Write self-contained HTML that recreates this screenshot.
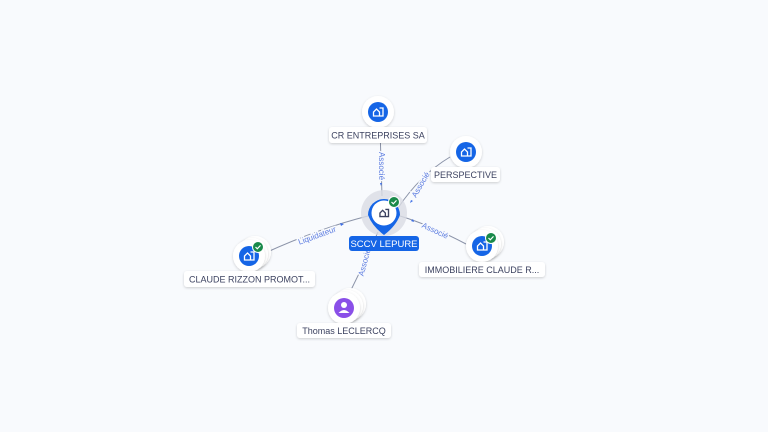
<!DOCTYPE html>
<html><head><style>
html,body{margin:0;padding:0;background:#f8fafd;}
svg{display:block;font-family:"Liberation Sans",sans-serif;}
.lbl{font-size:9px;fill:#3c4260;}
.el{font-size:8px;fill:#5b7be0;stroke:#f8fafd;stroke-width:3px;paint-order:stroke;}
</style></head><body>
<svg width="768" height="432" viewBox="0 0 768 432" xmlns="http://www.w3.org/2000/svg">
<defs>
<filter id="sh" x="-30%" y="-30%" width="160%" height="160%"><feDropShadow dx="0" dy="1" stdDeviation="1.2" flood-color="#000" flood-opacity="0.18"/></filter>
<g id="bld"><path d="M-4.5,4 v-4 l3,-3 l3,3 v4 z M1.5,-4 h3.5 v8 h-3.5" fill="none" stroke="#fff" stroke-width="1.3"/></g>
<g id="chk"><circle r="5.5" fill="#1a8a4a" stroke="#fff" stroke-width="1"/><path d="M-2.5,0 l1.8,1.8 l3.2,-3.4" stroke="#fff" stroke-width="1.2" fill="none"/></g>
</defs>
<!-- edges -->
<g stroke="#8b93a8" stroke-width="1" fill="none">
<path d="M380,128 L382,196"/>
<path d="M450,157 Q420,175 398,208"/>
<path d="M466,244 Q430,225 400,216"/>
<path d="M265,253 Q320,228 368,216"/>
<path d="M350,292 Q365,262 378,232"/>
</g>
<g fill="#3d6ee6">
<path d="M380,183 l2,0 l-1,3 z"/>
<path d="M411,200 l2,1 l-3,2 z"/>
<path d="M413,219 l1,3 l-3,-1 z"/>
<path d="M340,223 l1,3 l3,-2 z"/>
</g>
<text class="el" transform="translate(379,166) rotate(90)" text-anchor="middle">Associé</text>
<text class="el" transform="translate(423,186) rotate(-60)" text-anchor="middle">Associé</text>
<text class="el" transform="translate(434,233) rotate(25)" text-anchor="middle">Associé</text>
<text class="el" transform="translate(318,238) rotate(-20)" text-anchor="middle">Liquidateur</text>
<text class="el" transform="translate(367,263) rotate(-75)" text-anchor="middle">Associé</text>
<!-- CR ENTREPRISES -->
<circle cx="378" cy="112" r="16" fill="#fff" filter="url(#sh)"/>
<circle cx="378" cy="112" r="10" fill="#1565e6"/>
<use href="#bld" x="378" y="112"/>
<rect x="329" y="127" width="98" height="16" rx="3" fill="#fff" filter="url(#sh)"/>
<text class="lbl" x="378" y="138.5" text-anchor="middle">CR ENTREPRISES SA</text>
<!-- PERSPECTIVE -->
<circle cx="466" cy="152" r="16" fill="#fff" filter="url(#sh)"/>
<circle cx="466" cy="152" r="10" fill="#1565e6"/>
<use href="#bld" x="466" y="152"/>
<rect x="431" y="167" width="69" height="15" rx="3" fill="#fff" filter="url(#sh)"/>
<text class="lbl" x="465.5" y="178" text-anchor="middle">PERSPECTIVE</text>
<!-- IMMOBILIERE -->
<circle cx="488" cy="242" r="16" fill="#fff" filter="url(#sh)"/>
<circle cx="485" cy="244" r="16" fill="#fff" filter="url(#sh)"/>
<circle cx="482" cy="246" r="16" fill="#fff" filter="url(#sh)"/>
<circle cx="482" cy="246" r="10" fill="#1565e6"/>
<use href="#bld" x="482" y="246"/>
<use href="#chk" x="491" y="238"/>
<rect x="419" y="262" width="126" height="15" rx="3" fill="#fff" filter="url(#sh)"/>
<text class="lbl" x="482" y="273" text-anchor="middle">IMMOBILIERE CLAUDE R...</text>
<!-- CLAUDE RIZZON -->
<circle cx="255" cy="252" r="16" fill="#fff" filter="url(#sh)"/>
<circle cx="252" cy="254" r="16" fill="#fff" filter="url(#sh)"/>
<circle cx="249" cy="256" r="16" fill="#fff" filter="url(#sh)"/>
<circle cx="249" cy="256" r="10" fill="#1565e6"/>
<use href="#bld" x="249" y="256"/>
<use href="#chk" x="258" y="247"/>
<rect x="184" y="271" width="131" height="16" rx="3" fill="#fff" filter="url(#sh)"/>
<text class="lbl" x="249.5" y="282.5" text-anchor="middle">CLAUDE RIZZON PROMOT...</text>
<!-- Thomas -->
<circle cx="350" cy="304" r="16" fill="#fff" filter="url(#sh)"/>
<circle cx="347" cy="306" r="16" fill="#fff" filter="url(#sh)"/>
<circle cx="344" cy="308" r="16" fill="#fff" filter="url(#sh)"/>
<circle cx="344" cy="308" r="10" fill="#8a4fe8"/>
<circle cx="344" cy="305" r="3" fill="#fff"/>
<path d="M338.5,313 q5.5,-6 11,0 z" fill="#fff"/>
<rect x="297" y="323" width="94" height="15" rx="3" fill="#fff" filter="url(#sh)"/>
<text class="lbl" x="344" y="334" text-anchor="middle">Thomas LECLERCQ</text>
<!-- center -->
<circle cx="384" cy="213" r="23" fill="#d9dce3" opacity="0.8"/>
<path d="M368,215 A16,16 0 1,1 400,215 Q396,226 384,235 Q372,226 368,215 z" fill="#1565e6"/>
<circle cx="384" cy="213" r="12.5" fill="#fff"/>
<g transform="translate(384,213) scale(0.9)"><path d="M-4.5,4 v-4 l3,-3 l3,3 v4 z M1.5,-4 h3.5 v8 h-3.5" fill="none" stroke="#3c4260" stroke-width="1.5"/></g>
<use href="#chk" x="394" y="202"/>
<rect x="349" y="236" width="70" height="15" rx="3" fill="#1565e6"/>
<text x="384" y="247" text-anchor="middle" style="font-size:9.5px;fill:#fff">SCCV LEPURE</text>
</svg>
</body></html>
